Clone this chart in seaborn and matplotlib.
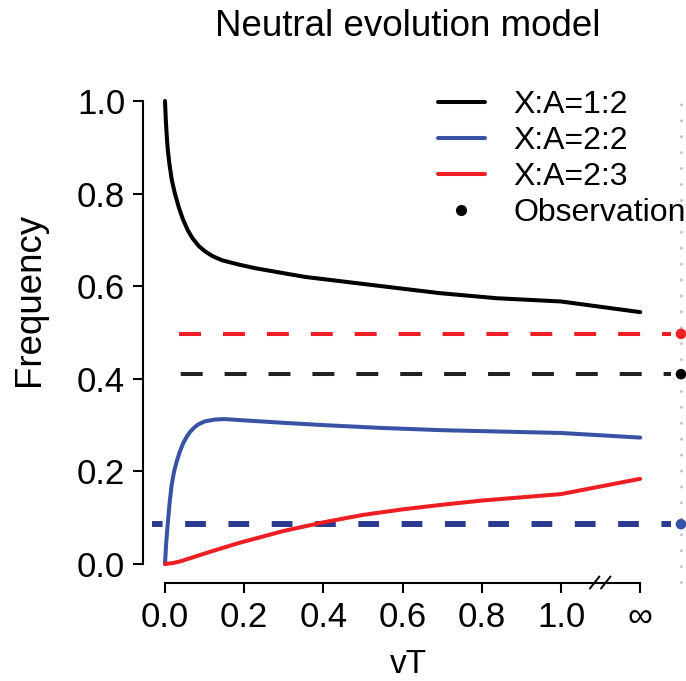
import matplotlib
matplotlib.use("Agg")
import matplotlib.pyplot as plt
import seaborn as sns
import pandas as pd

sns.set_style("white")
plt.rcParams["font.family"] = ["Liberation Sans", "DejaVu Sans"]
plt.rcParams["text.color"] = "black"
plt.rcParams["axes.labelcolor"] = "black"
plt.rcParams["xtick.color"] = "black"
plt.rcParams["ytick.color"] = "black"

# curves (x = vT, 1.2 stands for infinity)
vt_black = [0.0, 0.002, 0.004, 0.007, 0.011, 0.017, 0.025, 0.035, 0.045, 0.058, 0.07, 0.085, 0.1, 0.12,
            0.144, 0.185, 0.227, 0.3, 0.354, 0.48, 0.606, 0.694, 0.838, 1.0, 1.2]
freq_black = [1.0, 0.96, 0.93, 0.895, 0.865, 0.83, 0.80, 0.77, 0.745, 0.72, 0.703, 0.687, 0.676, 0.665,
              0.656, 0.647, 0.639, 0.628, 0.620, 0.607, 0.594, 0.585, 0.574, 0.567, 0.544]

vt_blue = [0.0, 0.003, 0.007, 0.012, 0.017, 0.023, 0.03, 0.038, 0.046, 0.055, 0.063, 0.073, 0.083, 0.1,
           0.126, 0.15, 0.185, 0.298, 0.4, 0.543, 0.7, 0.85, 1.0, 1.2]
freq_blue = [0.0, 0.045, 0.088, 0.135, 0.172, 0.200, 0.223, 0.244, 0.261, 0.275, 0.285, 0.294, 0.301, 0.308,
             0.312, 0.313, 0.311, 0.305, 0.300, 0.294, 0.289, 0.286, 0.283, 0.273]

vt_red = [0.0, 0.02, 0.04, 0.076, 0.12, 0.185, 0.298, 0.4, 0.5, 0.6, 0.7, 0.8, 0.9, 1.0, 1.2]
freq_red = [0.0, 0.002, 0.006, 0.016, 0.028, 0.045, 0.071, 0.090, 0.106, 0.118, 0.128, 0.137, 0.144, 0.151, 0.184]

labels = ["X:A=1:2", "X:A=2:2", "X:A=2:3"]
colors = ["#000000", "#3953a4", "#ed1f24"]
obs_values = [0.410, 0.086, 0.497]
dash_colors = ["#222222", "#2b3990", "#ed1f24"]
x_ticks = [0.0, 0.2, 0.4, 0.6, 0.8, 1.0, 1.2]
x_ticklabels = ["0.0", "0.2", "0.4", "0.6", "0.8", "1.0", "\u221e"]
y_ticks = [0.0, 0.2, 0.4, 0.6, 0.8, 1.0]
obs_x = 1.303

df = pd.concat([
    pd.DataFrame({"vT": vt_black, "Frequency": freq_black, "model": labels[0]}),
    pd.DataFrame({"vT": vt_blue, "Frequency": freq_blue, "model": labels[1]}),
    pd.DataFrame({"vT": vt_red, "Frequency": freq_red, "model": labels[2]}),
])
obs = pd.DataFrame({"vT": [obs_x] * 3, "Frequency": obs_values, "model": labels})

fig = plt.figure(figsize=(6.86, 6.81), dpi=100)
W, H = 686, 681
# data -> pixels: x_px = 165 + 396*x, y_px = 564 - 463*y
x0, x1 = -0.06, 1.31
y0, y1 = -0.05, 1.08
left = 165 + 396 * x0
right = 165 + 396 * x1
bottom = 564 - 463 * y0
top = 564 - 463 * y1
ax = fig.add_axes([left / W, 1 - bottom / H, (right - left) / W, (bottom - top) / H])

# gray dotted reference line for observations
ax.plot([obs_x, obs_x], [-0.039, 1.017], color="#c4c4c4", lw=2.2,
        linestyle=(0, (0.01, 5.2)), dash_capstyle="round", clip_on=False, zorder=1)

# observed values as dashed lines
ax.plot([0.0, 1.278], [obs_values[2]] * 2, color=dash_colors[2], lw=2.9,
        linestyle=(7.4, (5.45, 5.45)), zorder=2)
ax.plot([0.0, 1.278], [obs_values[0]] * 2, color=dash_colors[0], lw=2.9,
        linestyle=(7.0, (5.45, 5.45)), zorder=2)
ax.plot([-0.034, 1.278], [obs_values[1]] * 2, color=dash_colors[1], lw=4.3,
        linestyle=(1.7, (3.47, 3.78)), zorder=2)

sns.lineplot(data=df, x="vT", y="Frequency", hue="model", palette=colors,
             linewidth=2.9, sort=False, ax=ax, zorder=3)
sns.scatterplot(data=obs, x="vT", y="Frequency", hue="model", palette=colors,
                s=58, edgecolor="none", legend=False, ax=ax, clip_on=False, zorder=4)

ax.set_xlim(x0, x1)
ax.set_ylim(y0, y1)
ax.set_xticks(x_ticks)
ax.set_xticklabels(x_ticklabels)
ax.set_yticks(y_ticks)
ax.set_yticklabels([f"{v:.1f}" for v in y_ticks])

for s in ["top", "right"]:
    ax.spines[s].set_visible(False)
ax.spines["left"].set_position(("data", -0.055))
ax.spines["left"].set_bounds(0.0, 1.0)
ax.spines["bottom"].set_position(("data", -0.04))
ax.spines["bottom"].set_bounds(0.0, 1.2)
for s in ["left", "bottom"]:
    ax.spines[s].set_linewidth(1.5)
    ax.spines[s].set_color("black")
ax.tick_params(axis="both", direction="out", length=7.2, width=1.5, color="black",
               labelsize=25, pad=5.8, left=True, bottom=True)

# axis break marks between 1.0 and infinity
for bx in [1.085, 1.113]:
    ax.plot([bx - 0.012, bx + 0.012], [-0.053, -0.027], color="black", lw=1.4, clip_on=False)

ax.set_xlabel("vT", fontsize=24)
ax.xaxis.set_label_coords(0.492, -0.118)
ax.set_ylabel("Frequency", fontsize=26.4)
ax.yaxis.set_label_coords(-0.174, 0.549)
fig.text(408 / W, 1 - 27 / H, "Neutral evolution model", fontsize=26.5, ha="center", va="center")

handles, _ = ax.get_legend_handles_labels()
for h in handles:
    h.set_linewidth(2.9)
obs_handle = plt.Line2D([], [], color="black", marker="o", linestyle="none", markersize=7)
ax.legend(handles[:3] + [obs_handle], labels + ["Observation"], loc="upper left",
          bbox_to_anchor=(438 / W, 1 - 90 / H), bbox_transform=fig.transFigure,
          frameon=False, fontsize=23, handlelength=1.47, handletextpad=0.9,
          labelspacing=0.19, borderpad=0, borderaxespad=0)

fig.savefig("out.png", dpi=100)
